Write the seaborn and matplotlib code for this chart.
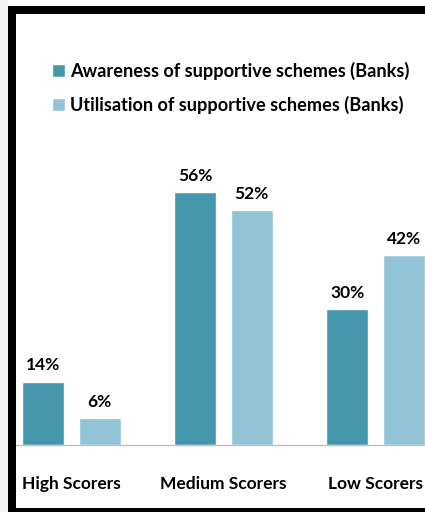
import matplotlib
matplotlib.use("Agg")
import matplotlib.pyplot as plt
import seaborn as sns
import pandas as pd
from matplotlib.patches import Rectangle

categories = ["High Scorers", "Medium Scorers", "Low Scorers"]
awareness = [14, 56, 30]
utilisation = [6, 52, 42]
series_names = ["Awareness of supportive schemes (Banks)",
                "Utilisation of supportive schemes (Banks)"]
colors = ["#4597ae", "#93c3d6"]

df = pd.DataFrame({
    "category": categories * 2,
    "value": awareness + utilisation,
    "series": [series_names[0]] * 3 + [series_names[1]] * 3,
})

sns.set_style("white")
plt.rcParams["font.family"] = ["Lato", "DejaVu Sans"]
plt.rcParams["font.weight"] = "bold"

W, H = 425, 512
fig = plt.figure(figsize=(W / 100, H / 100), dpi=100)
fig.patch.set_facecolor("white")

ax_left, ax_right, ax_base, ax_top = 16, 425, 445, 14
ax = fig.add_axes([ax_left / W, (H - ax_base) / H,
                   (ax_right - ax_left) / W, (ax_base - ax_top) / H])
ax.set_facecolor("none")

sns.barplot(data=df, x="category", y="value", hue="series",
            palette=colors, width=0.744, gap=0.25, ax=ax,
            saturation=1, legend=True)

pitch = 152.0
c0 = 71.5
ax.set_xlim((ax_left - c0) / pitch, (ax_right - c0) / pitch)
ax.set_ylim(0, (ax_base - ax_top) / 4.52)

for cont in ax.containers:
    ax.bar_label(cont, labels=[f"{int(v)}%" for v in cont.datavalues],
                 padding=6, fontsize=12.5, fontweight="bold", color="black")

for s in ["top", "right", "left"]:
    ax.spines[s].set_visible(False)
ax.spines["bottom"].set_color("#c0c0c0")
ax.spines["bottom"].set_linewidth(1)
ax.set_yticks([])
ax.set_xlabel("")
ax.set_ylabel("")
ax.tick_params(axis="x", length=0, pad=22, labelsize=12.5, colors="black")
for t in ax.get_xticklabels():
    t.set_fontweight("bold")

handles, labels = ax.get_legend_handles_labels()
ax.legend(handles, labels, loc="upper left", bbox_to_anchor=(52 / W, 1 - 62 / H),
          bbox_transform=fig.transFigure, frameon=False,
          handlelength=0.7, handleheight=0.7, handletextpad=0.3,
          labelspacing=0.85, borderaxespad=0, borderpad=0,
          prop={"weight": "bold", "size": 13.1})
for t in ax.get_legend().get_texts():
    t.set_color("black")

fig.patches.append(Rectangle((0, 0), 8 / W, 1, transform=fig.transFigure,
                             facecolor="#f4f4f4", edgecolor="none", zorder=0))
fig.patches.append(Rectangle((8 / W, 4 / H), 8 / W, 1 - 10 / H, transform=fig.transFigure,
                             facecolor="black", edgecolor="none", zorder=5))
fig.patches.append(Rectangle((8 / W, 1 - 14 / H), 1, 8 / H, transform=fig.transFigure,
                             facecolor="black", edgecolor="none", zorder=5))
fig.patches.append(Rectangle((8 / W, 0), 1, 4 / H, transform=fig.transFigure,
                             facecolor="black", edgecolor="none", zorder=5))

fig.savefig("out.png", dpi=100)
